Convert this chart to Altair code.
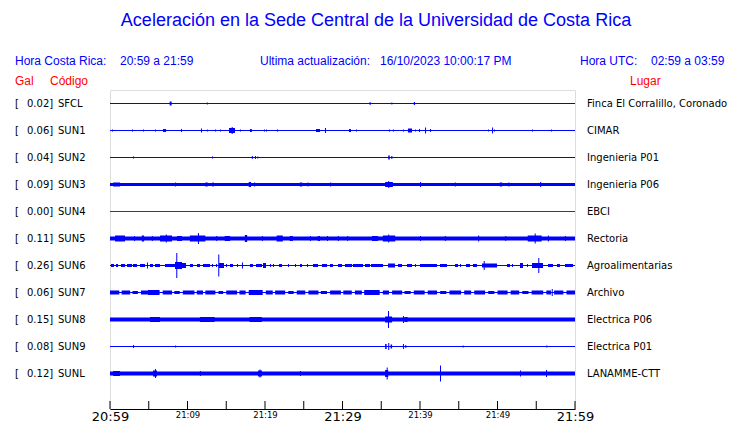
import altair as alt
import pandas as pd

# ---------------- data ----------------
stations = ["SFCL", "SUN1", "SUN2", "SUN3", "SUN4", "SUN5", "SUN6", "SUN7", "SUN8", "SUN9", "SUNL"]
gal_values = ["0.02", "0.06", "0.04", "0.09", "0.00", "0.11", "0.26", "0.06", "0.15", "0.08", "0.12"]
places = ["Finca El Corralillo, Coronado", "CIMAR", "Ingenieria P01", "Ingenieria P06", "EBCI",
          "Rectoria", "Agroalimentarias", "Archivo", "Electrica P06", "Electrica P01", "LANAMME-CTT"]
# resting trace thickness (px) of each station
trace_px = [1, 1, 1, 3, 1, 4, 1, 1, 4, 1, 4]
trace_colors = ["#0000ff", "#0000ff", "#0000ff", "#0000ff", "#d40000", "#0000ff",
                "#0000ff", "#0000ff", "#0000ff", "#0000ff", "#0000ff"]

# events: [start minute, end minute, half amplitude px] (minutes after 20:59)
ev_SFCL = [[7.7, 7.95, 2], [12.5, 12.5, 1], [33.5, 33.5, 1.5], [36.3, 36.3, 1], [39.2, 39.35, 1.5]]
ev_SUN1 = [[0.26, 0.26, 1], [2.84, 2.84, 1], [4.26, 4.26, 1], [5.8, 5.8, 1], [6.84, 7.23, 1.5],
           [9.16, 9.16, 1.5], [11.74, 11.74, 2], [12.5, 12.5, 1], [13.55, 13.55, 1], [14.2, 14.2, 1],
           [15.35, 16.13, 2.5], [15.7, 15.7, 3.5], [16.77, 16.77, 1], [18.06, 18.3, 1.5], [19.87, 19.87, 1],
           [20.13, 20.13, 1], [21.55, 21.55, 1], [26.58, 27.1, 1.5], [27.74, 27.74, 2.5], [30.84, 31.1, 1.5],
           [31.74, 31.74, 1], [36.0, 36.0, 1], [36.5, 36.5, 1], [37.8, 37.8, 1], [38.45, 38.97, 2],
           [39.35, 39.35, 1], [39.87, 39.87, 1.5], [40.65, 40.65, 3], [41.3, 41.3, 1.5], [48.77, 48.77, 1],
           [49.3, 49.3, 3], [49.55, 49.55, 1], [54.45, 54.45, 1], [56.9, 57.03, 1]]
ev_SUN2 = [[2.97, 2.97, 1], [13.16, 13.16, 1], [18.3, 18.4, 1.5], [18.7, 18.8, 1.5], [19.0, 19.1, 1],
           [35.9, 36.1, 2], [36.3, 36.3, 1.5]]
ev_SUN3 = [[0.4, 1.3, 2], [8.4, 8.4, 2], [12.3, 12.6, 2], [13.2, 13.4, 2], [17.9, 18.2, 2.5],
           [18.6, 18.6, 2], [24.5, 24.8, 2], [25.5, 25.5, 2], [28.4, 28.4, 2], [35.5, 36.5, 2.5],
           [35.9, 35.9, 3.5], [40.0, 40.0, 2.5], [44.5, 44.5, 2], [50.3, 50.6, 2], [51.4, 51.4, 2],
           [55.5, 55.5, 2.5]]
ev_SUN4 = []
ev_SUN5 = [[0.65, 1.94, 3], [3.1, 3.1, 2.5], [4.1, 4.4, 3], [5.4, 5.5, 2.5], [6.45, 8.0, 3],
           [7.2, 7.2, 4], [8.65, 9.3, 2.5], [10.3, 12.3, 3], [11.35, 11.35, 5.5], [13.7, 13.7, 2.5],
           [14.8, 15.5, 2.5], [17.4, 17.7, 3.5], [19.6, 19.6, 2.5], [21.5, 22.3, 3], [23.2, 23.6, 2.5],
           [25.8, 25.8, 2.5], [26.8, 27.1, 2.5], [28.0, 28.0, 2.5], [29.4, 29.4, 2.5], [30.6, 30.6, 2.5],
           [33.8, 34.6, 2.5], [35.2, 36.8, 3], [35.9, 35.9, 4], [40.0, 40.0, 2.5], [43.2, 43.2, 2.5],
           [47.5, 47.5, 3], [51.0, 51.0, 2.5], [53.9, 55.7, 3], [54.8, 54.8, 5], [56.5, 56.5, 3],
           [58.7, 58.7, 2.5]]
ev_SUN6 = [[0.13, 0.52, 1.5], [0.77, 1.03, 1.5], [1.42, 1.94, 1.5], [2.19, 2.84, 1.5], [2.97, 3.48, 1.5],
           [3.87, 4.52, 1.5], [4.77, 4.9, 3], [5.16, 5.55, 1.5], [5.81, 6.45, 1.5], [7.1, 8.39, 1.5],
           [8.55, 8.55, 12.5], [8.39, 9.29, 3.5], [9.29, 9.81, 2.5], [10.32, 10.71, 1.5], [11.23, 11.61, 1.5],
           [12.0, 12.9, 1.5], [13.16, 13.29, 1.5], [13.68, 13.81, 1.5], [13.97, 13.97, 11], [14.06, 14.71, 2.5],
           [14.97, 14.97, 1.5], [15.48, 15.87, 1.5], [16.39, 16.39, 1.5], [17.03, 17.16, 3], [18.06, 18.45, 1.5],
           [18.84, 19.61, 1.5], [19.74, 20.13, 2.5], [20.65, 20.65, 1.5], [21.03, 21.03, 1.5], [21.81, 22.19, 1.5],
           [22.97, 22.97, 1.5], [23.87, 23.87, 1.5], [24.52, 24.77, 1.5], [25.42, 25.42, 1.5], [26.19, 26.84, 1.5],
           [27.35, 28.0, 1.5], [28.39, 28.77, 1.5], [29.42, 29.94, 1.5], [30.32, 31.23, 1.5], [31.35, 32.65, 1.5],
           [32.9, 33.55, 1.5], [33.68, 35.23, 1.5], [35.87, 36.77, 2], [37.16, 37.68, 1.5], [38.32, 38.97, 1.5],
           [39.35, 39.35, 1.5], [40.0, 42.19, 1.5], [42.58, 43.48, 1.5], [44.52, 44.9, 1.5], [45.16, 45.16, 1.5],
           [45.94, 46.45, 1.5], [46.84, 47.35, 1.5], [48.0, 49.94, 2], [48.22, 48.22, 4.5], [51.23, 51.61, 1.5],
           [51.87, 52.0, 1.5], [52.9, 53.29, 2.5], [53.8, 53.8, 1.5], [54.45, 55.87, 2.5], [55.26, 55.26, 7.5],
           [56.52, 57.16, 1.5], [57.68, 58.06, 1.5], [58.71, 59.74, 1.5]]
ev_SUN7 = [[0.0, 1.2, 2], [1.5, 2.6, 2], [2.9, 3.6, 1.5], [4.0, 5.0, 2], [4.9, 6.4, 2.5], [6.8, 8.0, 2],
           [8.3, 9.0, 1.5], [9.4, 10.9, 2], [11.2, 12.0, 2], [12.3, 13.6, 2], [14.0, 14.6, 1.5],
           [15.0, 16.4, 2], [16.7, 17.5, 2], [17.9, 19.7, 2.5], [20.1, 21.0, 2], [21.3, 22.6, 2],
           [23.0, 23.7, 1.5], [24.1, 25.2, 2], [25.6, 26.9, 2], [27.2, 28.0, 1.5], [28.4, 29.8, 2],
           [30.1, 31.2, 2], [31.6, 32.5, 2], [32.8, 34.8, 2.5], [35.2, 36.0, 2], [36.4, 37.7, 2],
           [38.0, 38.8, 1.5], [39.2, 40.6, 2], [41.0, 42.2, 2], [42.6, 43.4, 1.5], [43.8, 45.3, 2],
           [45.7, 46.6, 2], [47.0, 48.4, 2], [48.8, 49.6, 1.5], [50.0, 51.3, 2], [51.7, 52.8, 2],
           [53.2, 54.0, 1.5], [54.4, 55.9, 2], [56.3, 56.9, 2], [57.0, 57.0, 3.5], [57.3, 58.5, 2],
           [58.9, 60.0, 2]]
ev_SUN8 = [[5.16, 6.45, 2.5], [11.6, 13.5, 2.5], [18.0, 19.6, 2.5], [35.5, 36.4, 3], [35.87, 35.87, 8.5],
           [37.8, 37.8, 3.5], [38.0, 38.4, 2.5]]
ev_SUN9 = [[2.97, 2.97, 1.5], [8.4, 8.4, 1], [35.5, 35.7, 2.5], [35.9, 35.9, 3.5], [36.2, 36.4, 2],
           [37.8, 37.8, 2.5], [38.1, 38.2, 1.5], [45.5, 45.5, 1], [56.3, 56.3, 1]]
ev_SUNL = [[0.4, 1.3, 2.5], [5.55, 6.06, 3], [5.8, 5.8, 4.5], [11.6, 11.6, 2.5], [19.1, 19.6, 3],
           [19.3, 19.3, 4], [24.5, 24.5, 2.5], [35.5, 35.9, 3.5], [35.7, 35.7, 6], [42.58, 42.58, 8],
           [52.9, 52.9, 3], [56.26, 56.26, 3.5]]
events = [ev_SFCL, ev_SUN1, ev_SUN2, ev_SUN3, ev_SUN4, ev_SUN5, ev_SUN6, ev_SUN7, ev_SUN8, ev_SUN9, ev_SUNL]

tick_minutes = [0, 5, 10, 15, 20, 25, 30, 35, 40, 45, 50, 55, 60]
label_minutes = [0, 10, 20, 30, 40, 50, 60]
label_texts = ["20:59", "21:09", "21:19", "21:29", "21:39", "21:49", "21:59"]

# ---------------- layout ----------------
W, H = 465, 319
ROW_PX = 27
TOP_GAP = 13.5
PX = 1.0 / ROW_PX
MIN_W = 0.13  # minutes, about one pixel

rows = []
for i, st in enumerate(stations):
    half = trace_px[i] / 2.0
    rows.append({"x0": 0, "x1": 60, "y0": i - half * PX, "y1": i + half * PX, "c": trace_colors[i]})
    for t0, t1, a in events[i]:
        rows.append({"x0": t0, "x1": max(t1, t0 + MIN_W), "y0": i - a * PX, "y1": i + a * PX,
                     "c": trace_colors[i]})
traces = pd.DataFrame(rows)

labels = pd.DataFrame({"row": list(range(len(stations))), "st": stations,
                       "gal": [g + "]" for g in gal_values], "place": places})

x_scale = alt.Scale(domain=[0, 60], nice=False, zero=False)
y_scale = alt.Scale(domain=[-TOP_GAP / ROW_PX, (H - TOP_GAP) / ROW_PX], reverse=True, nice=False, zero=False)

label_expr = "[" + ",".join("'%s'" % t for t in label_texts) + "][round(datum.value / 10)]"

trace_layer = alt.Chart(traces).mark_rect().encode(
    x=alt.X("x0:Q", scale=x_scale,
            axis=alt.Axis(values=label_minutes, labelExpr=label_expr, ticks=False, tickSize=0,
                          grid=False, title=None, domainColor="black", domainWidth=1,
                          labelFont="DejaVu Sans", labelColor="black",
                          labelFontSize={"condition": {"test": "datum.value % 30 == 0", "value": 13}, "value": 8.5},
                          labelPadding=1, labelFlush=False, labelOverlap=False)),
    x2="x1:Q",
    y=alt.Y("y0:Q", scale=y_scale, axis=None),
    y2="y1:Q",
    color=alt.Color("c:N", scale=None),
)

ticks = alt.Chart(pd.DataFrame({"m": tick_minutes})).mark_rule(color="black", strokeWidth=1).encode(
    x=alt.X("m:Q", scale=x_scale), y=alt.value(H - 8), y2=alt.value(H))

FONT = "DejaVu Sans"
bracket = alt.Chart(labels).mark_text(align="left", baseline="middle", font=FONT, fontSize=10, color="black").encode(
    x=alt.value(-95), y=alt.Y("row:Q", scale=y_scale), text=alt.value("["))
galtxt = alt.Chart(labels).mark_text(align="left", baseline="middle", font=FONT, fontSize=10, color="black").encode(
    x=alt.value(-83), y=alt.Y("row:Q", scale=y_scale), text="gal:N")
sttxt = alt.Chart(labels).mark_text(align="left", baseline="middle", font=FONT, fontSize=10, color="black").encode(
    x=alt.value(-52), y=alt.Y("row:Q", scale=y_scale), text="st:N")
placetxt = alt.Chart(labels).mark_text(align="left", baseline="middle", font=FONT, fontSize=10, color="black").encode(
    x=alt.value(477), y=alt.Y("row:Q", scale=y_scale), text="place:N")


def header(text, x, y, color, size, align="left"):
    return alt.Chart(pd.DataFrame({"t": [text]})).mark_text(
        align=align, baseline="middle", font="Liberation Sans", fontSize=size, color=color).encode(
        x=alt.value(x), y=alt.value(y), text="t:N")


BLUE = "#0000ff"
RED = "#ff0000"
headers = [
    header("Aceleración en la Sede Central de la Universidad de Costa Rica", 266, -69, BLUE, 18, "center"),
    header("Hora Costa Rica:", -95, -29, BLUE, 12),
    header("20:59 a 21:59", 10, -29, BLUE, 12),
    header("Ultima actualización:", 150, -29, BLUE, 12),
    header("16/10/2023 10:00:17 PM", 270, -29, BLUE, 12),
    header("Hora UTC:", 470, -29, BLUE, 12),
    header("02:59 a 03:59", 541, -29, BLUE, 12),
    header("Gal", -95, -9, RED, 12),
    header("Código", -60, -9, RED, 12),
    header("Lugar", 520, -9, RED, 12),
]

chart = alt.layer(trace_layer, ticks, bracket, galtxt, sttxt, placetxt, *headers).properties(
    width=W, height=H,
    autosize=alt.AutoSizeParams(type="none"),
    padding={"left": 102, "top": 82, "right": 157, "bottom": 14},
).configure_view(stroke=None).configure(background="white")

chart.save("out.html", embed_options={"renderer": "svg", "actions": False})
